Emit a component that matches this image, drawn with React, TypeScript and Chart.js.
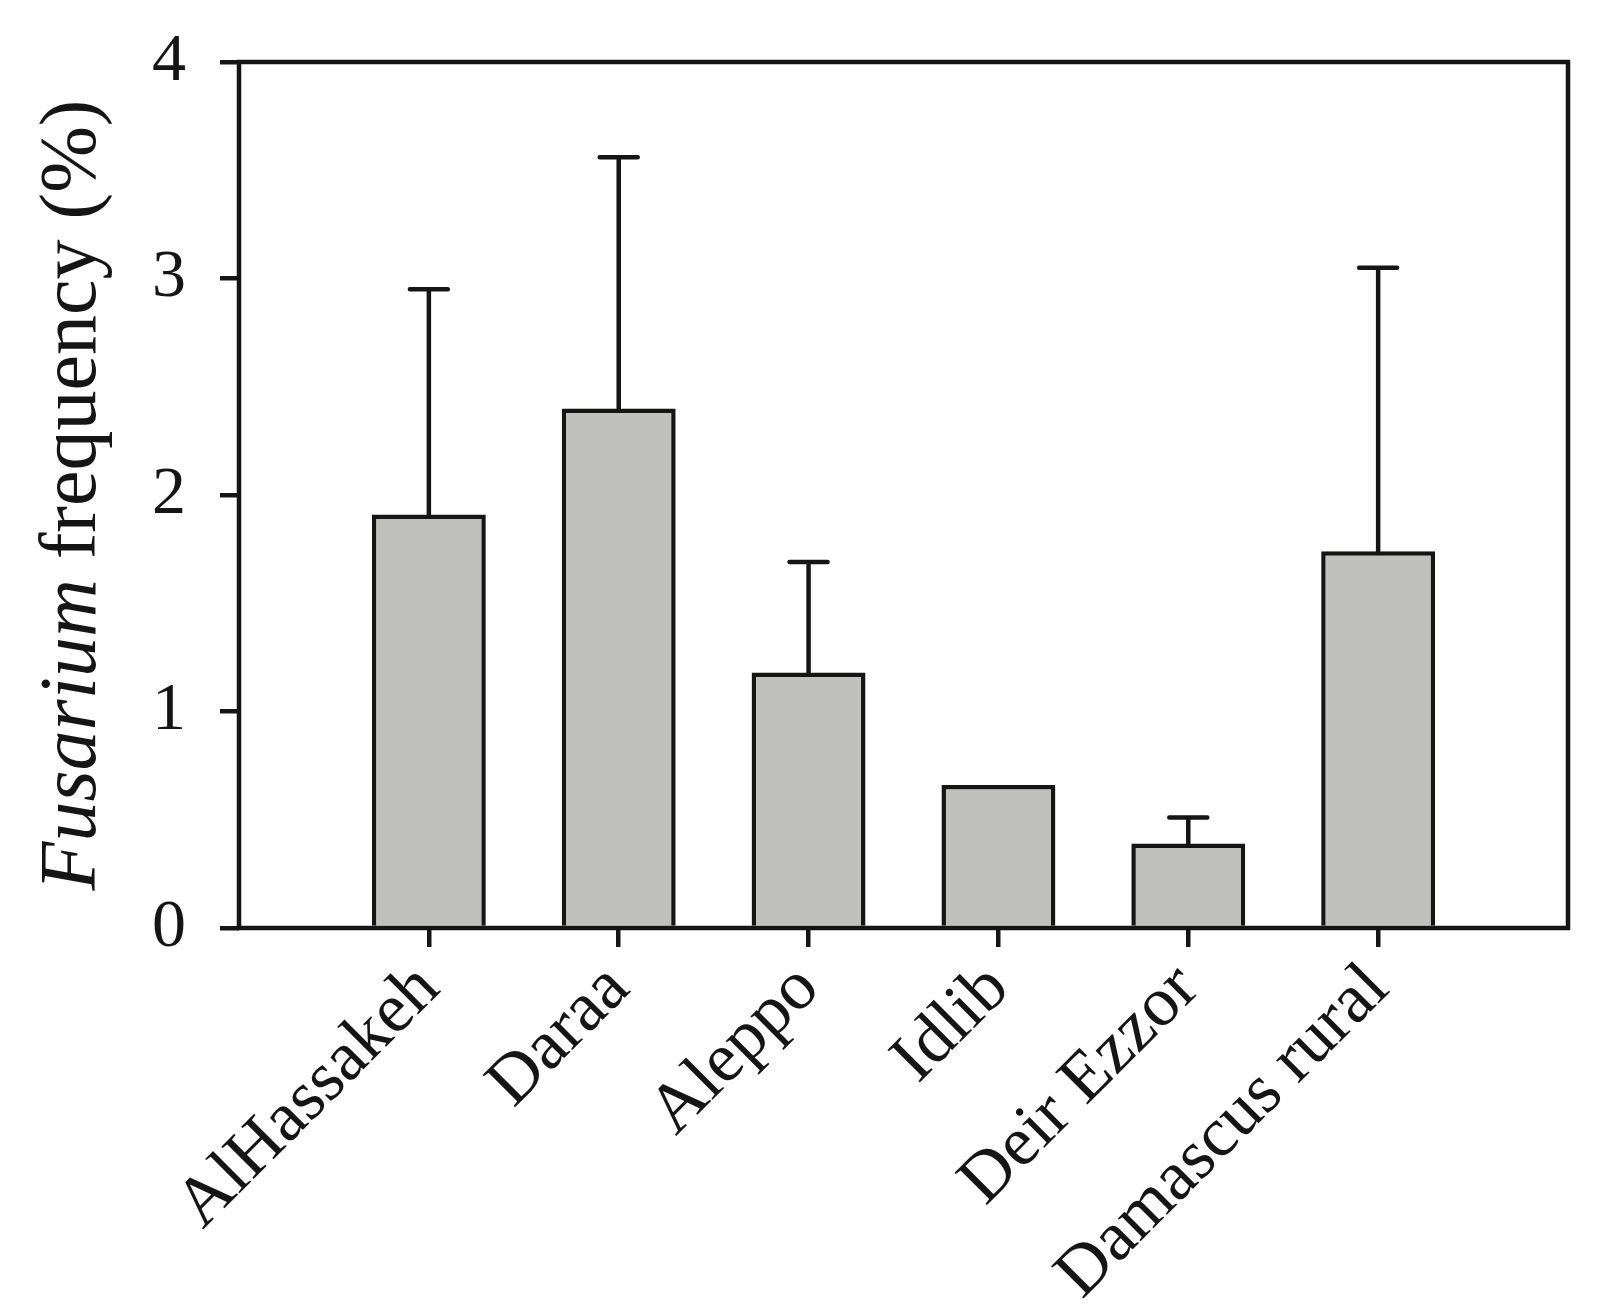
import React, { useEffect, useRef } from "react";
import { Chart, registerables } from "chart.js";

Chart.register(...registerables);

const categories = ["AlHassakeh", "Daraa", "Aleppo", "Idlib", "Deir Ezzor", "Damascus rural"];
const meanValues = [1.91, 2.4, 1.18, 0.66, 0.39, 1.74];
const sdValues: (number | null)[] = [1.04, 1.16, 0.51, null, 0.12, 1.31];
const yTicks = [0, 1, 2, 3, 4];

const FONT = "'Liberation Serif', 'Times New Roman', Times, serif";
const INK = "#151515";

export default function App() {
  const ref = useRef<HTMLCanvasElement | null>(null);

  useEffect(() => {
    const canvas = ref.current;
    if (!canvas) return;
    const labels = ["", ...categories, ""];
    const data = [null, ...meanValues, null];

    const errorBars = {
      id: "errorBars",
      afterDatasetsDraw(chart: any) {
        const { ctx, scales } = chart;
        const xs = scales.x;
        const ys = scales.y;
        ctx.save();
        ctx.strokeStyle = INK;
        ctx.lineWidth = 4.5;
        ctx.lineCap = "round";
        sdValues.forEach((sd, i) => {
          if (sd == null) return;
          const x = xs.getPixelForValue(i + 1);
          const y0 = ys.getPixelForValue(meanValues[i]);
          const y1 = ys.getPixelForValue(meanValues[i] + sd);
          ctx.beginPath();
          ctx.moveTo(x, y0);
          ctx.lineTo(x, y1);
          ctx.moveTo(x - 19, y1);
          ctx.lineTo(x + 19, y1);
          ctx.stroke();
        });
        ctx.restore();
      },
    };

    const frame = {
      id: "frame",
      afterDatasetsDraw(chart: any) {
        const { ctx, chartArea } = chart;
        ctx.save();
        ctx.strokeStyle = INK;
        ctx.lineWidth = 4.5;
        ctx.lineJoin = "miter";
        ctx.strokeRect(
          chartArea.left,
          chartArea.top,
          chartArea.right - chartArea.left,
          chartArea.bottom - chartArea.top
        );
        ctx.restore();
      },
    };

    const yTitle = {
      id: "yTitle",
      afterDraw(chart: any) {
        const { ctx, chartArea } = chart;
        const cy = (chartArea.top + chartArea.bottom) / 2;
        const italic = "italic 80px " + FONT;
        const normal = "80px " + FONT;
        const p1 = "Fusarium";
        const p2 = " frequency (%)";
        ctx.save();
        ctx.translate(74, cy);
        ctx.rotate(-Math.PI / 2);
        ctx.fillStyle = INK;
        ctx.textBaseline = "middle";
        ctx.textAlign = "left";
        ctx.font = italic;
        const w1 = ctx.measureText(p1).width;
        ctx.font = normal;
        const w2 = ctx.measureText(p2).width;
        const start = -(w1 + w2) / 2;
        ctx.font = italic;
        ctx.fillText(p1, start, 0);
        ctx.font = normal;
        ctx.fillText(p2, start + w1, 0);
        ctx.restore();
      },
    };

    const chart = new Chart(canvas, {
      type: "bar",
      data: {
        labels,
        datasets: [
          {
            data: data as any,
            backgroundColor: "#c0c1bf",
            borderColor: INK,
            borderWidth: 4.5,
            borderSkipped: "start",
            barPercentage: 0.6,
            categoryPercentage: 1.0,
          },
        ],
      },
      options: {
        responsive: false,
        animation: false,
        devicePixelRatio: 1,
        layout: { padding: { left: 0, top: 62, right: 38, bottom: 0 } },
        plugins: { legend: { display: false }, tooltip: { enabled: false } },
        scales: {
          x: {
            type: "category",
            offset: false,
            border: { display: false },
            grid: {
              offset: false,
              drawOnChartArea: false,
              drawTicks: true,
              tickLength: 19,
              lineWidth: 4.5,
              color: (c: any) =>
                c.index === 0 || c.index === labels.length - 1 ? "rgba(0,0,0,0)" : INK,
            },
            ticks: {
              autoSkip: false,
              maxRotation: 45,
              minRotation: 45,
              padding: 1,
              color: INK,
              font: { family: FONT, size: 70 },
            },
            afterFit(scale: any) {
              scale.height = 1310 - 928;
              scale.paddingLeft = 0;
              scale.paddingRight = 0;
            },
          },
          y: {
            min: 0,
            max: 4,
            border: { display: false },
            afterBuildTicks(scale: any) {
              scale.ticks = yTicks.map((v) => ({ value: v }));
            },
            grid: {
              drawOnChartArea: false,
              drawTicks: true,
              tickLength: 19,
              lineWidth: 4.5,
              color: INK,
            },
            ticks: {
              padding: 34,
              color: INK,
              font: { family: FONT, size: 68 },
            },
            afterFit(scale: any) {
              scale.width = 239;
              scale.paddingTop = 0;
              scale.paddingBottom = 0;
            },
          },
        },
      },
      plugins: [errorBars, frame, yTitle],
    });

    return () => chart.destroy();
  }, []);

  return (
    <div style={{ position: "fixed", left: 0, top: 0, width: 1606, height: 1310, background: "#fff" }}>
      <canvas ref={ref} width={1606} height={1310} style={{ width: 1606, height: 1310, display: "block" }} />
    </div>
  );
}
